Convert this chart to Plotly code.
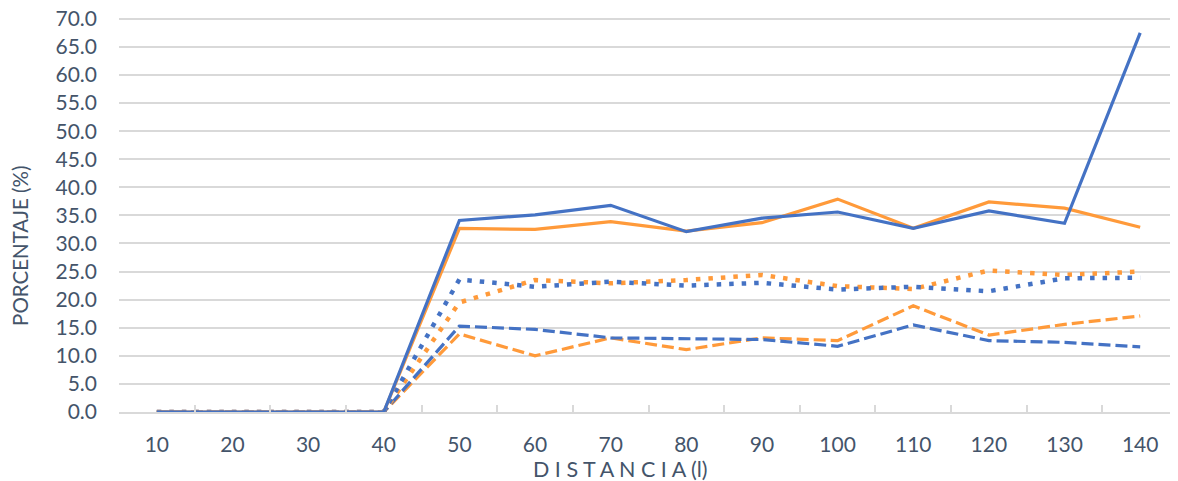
import plotly.graph_objects as go

distancia = ["10", "20", "30", "40", "50", "60", "70", "80", "90", "100", "110", "120", "130", "140"]

azul_solida = [0, 0, 0, 0, 34.1, 35.1, 36.8, 32.1, 34.5, 35.6, 32.7, 35.8, 33.6, 67.5]
naranja_solida = [0, 0, 0, 0, 32.7, 32.5, 33.9, 32.2, 33.7, 37.9, 32.7, 37.4, 36.3, 32.9]
azul_punteada = [0, 0, 0, 0, 23.6, 22.3, 23.2, 22.5, 23.0, 21.8, 22.3, 21.5, 23.8, 23.9]
naranja_punteada = [0, 0, 0, 0, 19.5, 23.5, 22.9, 23.5, 24.4, 22.4, 21.9, 25.2, 24.4, 25.0]
azul_discontinua = [0, 0, 0, 0, 15.3, 14.7, 13.2, 13.0, 12.9, 11.7, 15.5, 12.7, 12.4, 11.6]
naranja_discontinua = [0, 0, 0, 0, 13.9, 10.0, 13.2, 11.1, 13.2, 12.7, 18.9, 13.7, 15.6, 17.1]

y_ticks = [0, 5, 10, 15, 20, 25, 30, 35, 40, 45, 50, 55, 60, 65, 70]

AZUL = "#4472C4"
NARANJA = "#FF9A3A"
TEXT = "#44546A"
GRID = "#D9D9D9"
FONT = "Lato, Liberation Sans, sans-serif"

fig = go.Figure()
series = [
    (naranja_discontinua, NARANJA, "12px,5px", 3.2),
    (azul_discontinua, AZUL, "12px,5px", 3.2),
    (naranja_punteada, NARANJA, "4.5px,8px", 4.5),
    (azul_punteada, AZUL, "4.5px,8px", 4.5),
    (naranja_solida, NARANJA, "solid", 3.2),
    (azul_solida, AZUL, "solid", 3.2),
]
for vals, color, dash, w in series:
    fig.add_trace(go.Scatter(
        x=distancia, y=vals, mode="lines",
        line=dict(color=color, width=w, dash=dash),
        showlegend=False,
    ))

# page body has an 8px margin, so the figure is sized/offset to compensate
fig.update_layout(
    width=1170, height=473,
    margin=dict(l=111, r=0, t=8.2, b=69),
    paper_bgcolor="white", plot_bgcolor="white",
    font=dict(family=FONT, color=TEXT, size=21),
)
fig.update_xaxes(
    type="category", range=[-0.5, 13.5], automargin=False,
    showgrid=False, showline=True, linecolor=GRID, linewidth=1.5,
    ticks="inside", tickson="boundaries", ticklen=7, tickcolor=GRID, tickwidth=1.5,
    tickfont=dict(size=21, color=TEXT),
    ticklabelstandoff=13, ticklabeloverflow="allow",
)
fig.update_yaxes(
    range=[0, 70.5], tickvals=y_ticks, ticktext=[f"{v:.1f}" for v in y_ticks],
    automargin=False,
    showgrid=True, gridcolor=GRID, gridwidth=1.5, zeroline=False,
    showline=False, tickfont=dict(size=21, color=TEXT),
    ticklabelstandoff=21, ticklabeloverflow="allow",
)
fig.add_annotation(
    text="PORCENTAJE (%)", textangle=-90, showarrow=False,
    xref="paper", yref="paper", x=-(119 - 20) / 1059, y=(412 - 246) / 395.8,
    xanchor="center", yanchor="middle",
    font=dict(size=20.5, color=TEXT, family=FONT),
)
fig.add_annotation(
    text="D I S T A N C I A (l)", showarrow=False,
    xref="paper", yref="paper", x=(620 - 119) / 1059, y=-(469 - 412) / 395.8,
    xanchor="center", yanchor="middle",
    font=dict(size=21.5, color=TEXT, family=FONT),
)

fig.write_html("out.html")
